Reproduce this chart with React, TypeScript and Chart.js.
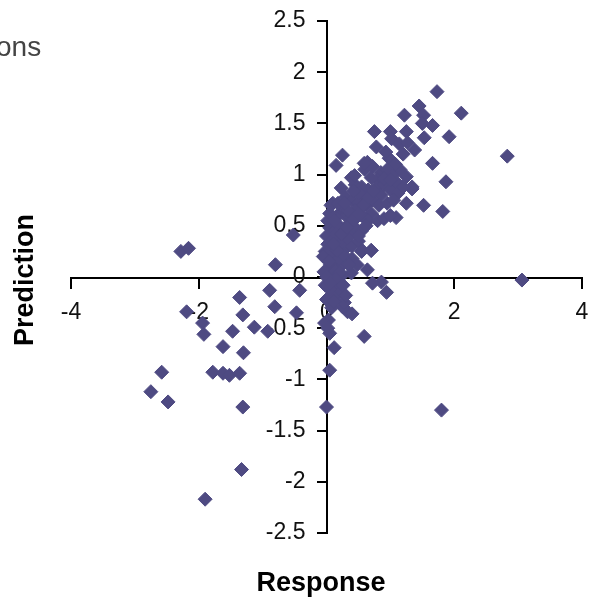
import { useEffect, useRef } from "react";
import { Chart, registerables } from "chart.js";

Chart.register(...registerables);

// Response (x) and Prediction (y) values
const responseValues: number[] = [
  -2.28, -2.16, -0.8, -0.52, -2.19, -1.94, -1.92, -1.36, -1.31, -1.47,
  -1.13, -0.89, -0.81, -0.92, -0.42, -0.47, -1.62, -1.3, -1.78, -1.62,
  -1.52, -1.36, -2.58, -2.75, -2.48, -1.31, -1.33, -1.9,
  1.8, 0.0, 0.05, 0.12, 0.05, 0.59, 0.03, 0.33, 0.4, 3.06,
  0.94, 0.86, 0.72, 0.64, 0.39,
  0.05, 0.15, 0.2, 0.1, 0.25, 0.05, 0.0, 0.08, 0.18, 0.28, -0.02, 0.12, -0.03, 0.02,
  1.73, 2.11, 2.83, 1.45, 1.22, 1.52, 1.5, 1.66, 1.92, 1.53,
  0.75, 1.0, 1.25, 0.78, 1.02, 1.14, 1.27, 1.38, 1.66, 1.87,
  1.82, 1.52, 1.25, 1.34, 0.25, 0.15, 0.39, 0.23, 0.1, 0.64,
  0.98, 1.09, 1.34, 0.93, 1.2,
  0.6, 0.72, 0.85, 0.95, 1.05, 1.15, 1.25, 0.8, 1.1, 0.7,
  0.45, 0.55, 0.65, 0.78, 0.9, 1.0, 1.12, 1.2, 0.85, 0.6,
  0.3, 0.4, 0.5, 0.62, 0.72, 0.82, 0.95, 1.05, 0.45, 0.7,
  0.2, 0.3, 0.38, 0.55, 0.65, 0.8, 0.9, 1.0, 0.25, 0.15,
  0.05, 0.12, 0.2, 0.28, 0.36, 0.45, 0.55, 0.1, 0.35, 0.62,
  0.02, 0.08, 0.15, 0.22, 0.3, 0.4, 0.5, 0.7, 0.18, 0.55,
  0.0, 0.06, 0.12, 0.22, 0.3, 0.4, 0.1, 0.25, 0.48, 0.03,
  0.02, 0.05, 0.0, 0.07, -0.02, 0.12, 0.08, 0.15, 0.18, 0.03,
  0.44, 0.59, 0.56, 0.7, -0.04, -0.05, 0.35, 0.5,
  0.08, 0.14, 0.2, 0.26, 0.33, 0.16, 0.04, 0.11, 0.24, 0.42,
  0.32, 0.5, 0.58, 0.66, 0.74, 0.9, 1.0, 1.08, 0.5, 0.34,
  0.28, 0.42, 0.2, 0.14, 0.26, 0.3, 0.0, 0.06,
];

const predictionValues: number[] = [
  0.25, 0.28, 0.12, 0.41, -0.34, -0.45, -0.56, -0.2, -0.37, -0.53,
  -0.49, -0.13, -0.29, -0.53, -0.13, -0.35, -0.68, -0.74, -0.93, -0.94,
  -0.96, -0.94, -0.93, -1.12, -1.22, -1.27, -1.88, -2.17,
  -1.3, -1.27, -0.91, -0.69, -0.55, -0.58, -0.42, -0.34, -0.36, -0.03,
  -0.15, -0.05, -0.06, 0.07, 0.04,
  -0.03, -0.1, -0.16, -0.19, -0.29, -0.12, -0.22, -0.3, -0.05, -0.25, -0.08, -0.24, -0.45, -0.5,
  1.81, 1.6, 1.18, 1.67, 1.58, 1.58, 1.5, 1.48, 1.37, 1.36,
  1.42, 1.42, 1.42, 1.27, 1.35, 1.3, 1.31, 1.24, 1.11, 0.93,
  0.64, 0.7, 0.72, 0.86, 1.19, 1.09, 0.97, 0.87, 0.72, 1.12,
  1.16, 0.58, 0.88, 1.22, 1.2,
  1.05, 1.08, 1.02, 1.05, 1.0, 1.05, 0.98, 0.95, 0.92, 0.97,
  0.9, 0.88, 0.85, 0.88, 0.9, 0.85, 0.82, 0.88, 0.8, 0.78,
  0.78, 0.75, 0.72, 0.7, 0.75, 0.7, 0.72, 0.75, 0.65, 0.62,
  0.62, 0.6, 0.58, 0.6, 0.55, 0.55, 0.57, 0.6, 0.68, 0.58,
  0.48, 0.45, 0.5, 0.45, 0.42, 0.48, 0.45, 0.38, 0.52, 0.5,
  0.32, 0.28, 0.3, 0.35, 0.28, 0.3, 0.35, 0.26, 0.22, 0.25,
  0.18, 0.12, 0.15, 0.1, 0.15, 0.18, 0.05, 0.02, 0.12, 0.08,
  0.55, 0.62, 0.4, 0.7, 0.25, 0.55, 0.35, 0.42, 0.72, 0.22,
  0.99, 1.11, 0.26, 0.26, 0.05, 0.2, 0.12, 0.4,
  0.02, 0.06, 0.18, 0.22, 0.38, 0.26, 0.15, 0.32, 0.42, 0.55,
  0.48, 0.62, 0.7, 0.78, 0.84, 0.96, 0.95, 1.1, 0.82, 0.65,
  0.72, 0.84, 0.04, -0.02, -0.08, -0.18, 0.0, -0.06,
];

const xTickValues: number[] = [-4, -2, 0, 2, 4];
const yTickValues: number[] = [-2.5, -2, -1.5, -1, -0.5, 0, 0.5, 1, 1.5, 2, 2.5];

const xAxisTitle = "Response";
const yAxisTitle = "Prediction";
const cornerText = "ons";

const FONT = '"Liberation Sans", Arial, Helvetica, sans-serif';
const MARKER = "#4E4A82";

const textPlugin = {
  id: "extraTexts",
  afterDraw(chart: any) {
    const ctx = chart.ctx as CanvasRenderingContext2D;
    ctx.save();
    ctx.fillStyle = "#000";
    ctx.font = `bold 27px ${FONT}`;
    ctx.textAlign = "center";
    ctx.textBaseline = "alphabetic";
    ctx.fillText(xAxisTitle, 321, 591);
    ctx.save();
    ctx.translate(33, 280);
    ctx.rotate(-Math.PI / 2);
    ctx.fillText(yAxisTitle, 0, 0);
    ctx.restore();
    ctx.font = `28px ${FONT}`;
    ctx.fillStyle = "#444";
    ctx.textAlign = "left";
    ctx.fillText(cornerText, -4, 56);
    ctx.restore();
  },
};

const noEdgePadding = (axis: any) => {
  axis.paddingLeft = 0;
  axis.paddingRight = 0;
  axis.paddingTop = 0;
  axis.paddingBottom = 0;
};

export default function App() {
  const ref = useRef<HTMLCanvasElement | null>(null);

  useEffect(() => {
    if (!ref.current) return;
    const points = responseValues.map((x, i) => ({ x, y: predictionValues[i] }));
    const tickFont = { family: FONT, size: 23 };
    const chart = new Chart(ref.current, {
      type: "scatter",
      data: {
        datasets: [
          {
            label: "Predictions",
            data: points,
            pointStyle: "rectRot",
            pointRadius: 7,
            pointBackgroundColor: MARKER,
            pointBorderColor: MARKER,
            pointBorderWidth: 1,
          },
        ],
      },
      options: {
        animation: false,
        responsive: false,
        maintainAspectRatio: false,
        layout: { padding: { left: 71, right: 10, top: 21, bottom: 65 } },
        plugins: {
          legend: { display: false },
          tooltip: { enabled: false },
          title: { display: false },
        },
        scales: {
          x: {
            type: "linear",
            min: -4,
            max: 4,
            position: "center",
            afterBuildTicks: (axis: any) => {
              axis.ticks = xTickValues.map((v) => ({ value: v }));
            },
            afterFit: noEdgePadding,
            ticks: {
              font: tickFont,
              color: "#111",
              padding: 12,
              maxRotation: 0,
              autoSkip: false,
              callback: (v: any) => String(v),
            },
            grid: {
              display: true,
              drawOnChartArea: false,
              drawTicks: true,
              tickLength: 10,
              color: "#000",
              lineWidth: 2,
            },
            border: { display: true, color: "#000", width: 2 },
          },
          y: {
            type: "linear",
            min: -2.5,
            max: 2.5,
            position: "center",
            afterBuildTicks: (axis: any) => {
              axis.ticks = yTickValues.map((v) => ({ value: v }));
            },
            afterFit: noEdgePadding,
            ticks: {
              font: tickFont,
              color: "#111",
              padding: 12,
              autoSkip: false,
              callback: (v: any) => String(v),
            },
            grid: {
              display: true,
              drawOnChartArea: false,
              drawTicks: true,
              tickLength: 9,
              color: "#000",
              lineWidth: 2,
            },
            border: { display: true, color: "#000", width: 2 },
          },
        },
      },
      plugins: [textPlugin],
    });
    return () => chart.destroy();
  }, []);

  return (
    <div style={{ position: "fixed", left: 0, top: 0, width: 592, height: 598, background: "#fff" }}>
      <canvas ref={ref} width={592} height={598} style={{ width: 592, height: 598, display: "block" }} />
    </div>
  );
}
